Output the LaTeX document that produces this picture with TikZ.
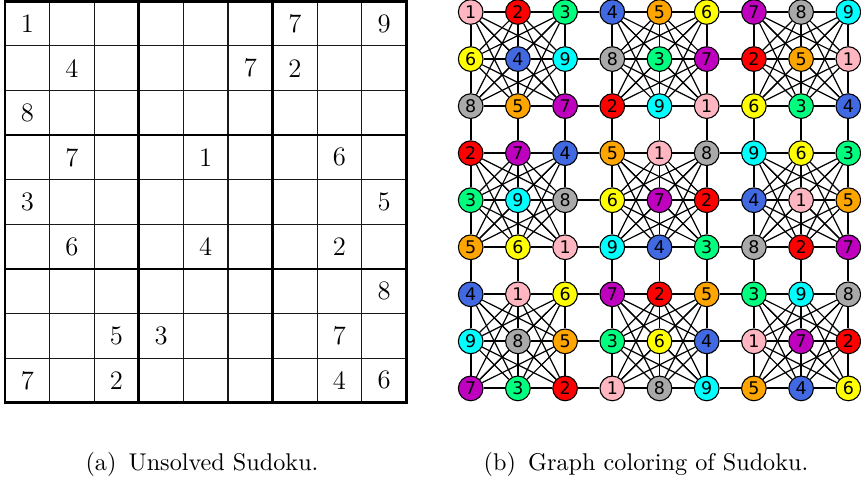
\documentclass[tikz,border=0pt]{standalone}
\usepackage{fontspec}
\newfontfamily\vtxfont{DejaVu Sans}
\usetikzlibrary{calc}
\pgfdeclarelayer{back}
\pgfsetlayers{back,main}

\definecolor{col1}{HTML}{FFB6C1}
\definecolor{col2}{HTML}{FF0000}
\definecolor{col3}{HTML}{00FF7F}
\definecolor{col4}{HTML}{4169E1}
\definecolor{col5}{HTML}{FFA500}
\definecolor{col6}{HTML}{FFFF00}
\definecolor{col7}{HTML}{BF00BF}
\definecolor{col8}{HTML}{A9A9A9}
\definecolor{col9}{HTML}{00FFFF}

\newcommand{\cellw}{44.6}
\newcommand{\vsep}{47.2}
\newcommand{\hsep}{47.05}

\tikzstyle{thin grid}=[line width=0.45pt,black!90]
\tikzstyle{thick grid}=[line width=1.1pt,line cap=rect]
\tikzstyle{given}=[font=\fontsize{11}{13}\selectfont,inner sep=0pt]
\tikzstyle{vtx}=[circle,draw=black,line width=0.45pt,minimum size=10.2pt,inner sep=0pt,font=\vtxfont\fontsize{7.2}{8}\selectfont]
\tikzstyle{lineedge}=[line width=0.8pt]
\tikzstyle{boxedge}=[line width=0.5pt]
\tikzstyle{subcap}=[font=\fontsize{10}{12}\selectfont,anchor=base,inner sep=0pt]

\begin{document}
\begin{tikzpicture}[x=0.413pt,y=-0.413pt]
	\useasboundingbox (0,0) rectangle (861,481);
	
	% unsolved grid
	\foreach \i in {1,2,4,5,7,8}{
		\draw[thin grid] (5+\i*\cellw,1.3) -- (5+\i*\cellw,1.3+9*\cellw);
		\draw[thin grid] (5,1.3+\i*\cellw) -- (5+9*\cellw,1.3+\i*\cellw);
	}
	\foreach \i in {0,3,6,9}{
		\draw[thick grid] (5+\i*\cellw,1.3) -- (5+\i*\cellw,1.3+9*\cellw);
		\draw[thick grid] (5,1.3+\i*\cellw) -- (5+9*\cellw,1.3+\i*\cellw);
	}
	\foreach \ra/\ca/\d in {1/1/1,1/7/7,1/9/9,2/2/4,2/6/7,2/7/2,3/1/8,4/2/7,4/5/1,4/8/6,5/1/3,5/9/5,
		6/2/6,6/5/4,6/8/2,7/9/8,8/3/5,8/4/3,8/8/7,9/1/7,9/3/2,9/8/4,9/9/6}
		\node[given] (g\ra-\ca) at (5+\ca*\cellw-0.5*\cellw,1.3+\ra*\cellw-0.5*\cellw) {\d};
	
	% coloured graph
	\foreach \vals [count=\ra] in {{1,2,3,4,5,6,7,8,9},{6,4,9,8,3,7,2,5,1},{8,5,7,2,9,1,6,3,4},
		{2,7,4,5,1,8,9,6,3},{3,9,8,6,7,2,4,1,5},{5,6,1,9,4,3,8,2,7},
		{4,1,6,7,2,5,3,9,8},{9,8,5,3,6,4,1,7,2},{7,3,2,1,8,9,5,4,6}}
		\foreach \d [count=\ca] in \vals
			\node[vtx,fill=col\d] (v\ra-\ca) at (470.7+\ca*\vsep-\vsep,12+\ra*\hsep-\hsep) {\d};
	
	\begin{pgfonlayer}{back}
		\foreach \ra in {1,...,9}
			\foreach \ca in {1,...,8}{
				\pgfmathtruncatemacro\cn{\ca+1}
				\draw[lineedge] (v\ra-\ca) -- (v\ra-\cn);
				\draw[lineedge] (v\ca-\ra) -- (v\cn-\ra);
			}
		\foreach \ra in {1,...,9}
			\foreach \ca in {1,...,9}{
				\pgfmathtruncatemacro\rb{3*floor((\ra-1)/3)}
				\pgfmathtruncatemacro\cb{3*floor((\ca-1)/3)}
				\foreach \dr in {1,2,3}
					\foreach \dc in {1,2,3}{
						\pgfmathtruncatemacro\rr{\rb+\dr}
						\pgfmathtruncatemacro\cc{\cb+\dc}
						\ifnum\rr>\ra \ifnum\cc=\ca\else
							\draw[boxedge] (v\ra-\ca) -- (v\rr-\cc);
						\fi\fi
					}
			}
	\end{pgfonlayer}
	
	\node[subcap] (capa) at (202,470) {(a)\hspace{5pt}Unsolved Sudoku.};
	\node[subcap] (capb) at (646,470) {(b)\hspace{5pt}Graph coloring of Sudoku.};
\end{tikzpicture}
\end{document}
